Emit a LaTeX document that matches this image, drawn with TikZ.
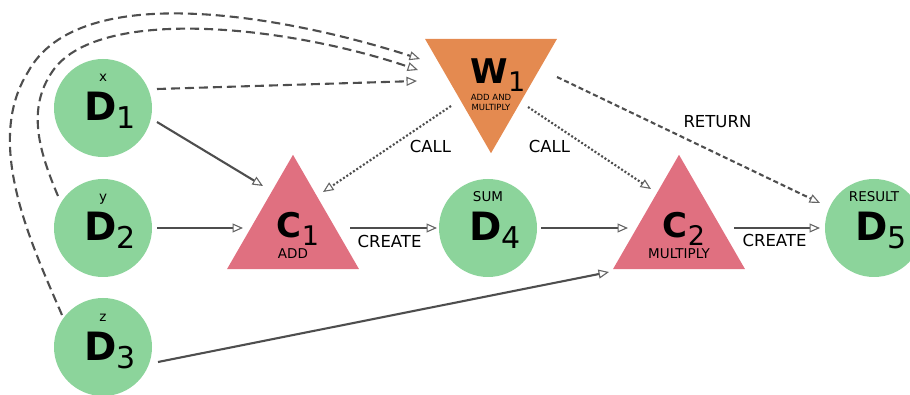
\documentclass[tikz,border=0pt]{standalone}
\usepackage{fontspec}
\setmainfont{DejaVu Sans}
\usetikzlibrary{arrows.meta,calc,shapes.geometric}
\definecolor{dgreen}{HTML}{8CD49B}
\definecolor{tred}{HTML}{E07080}
\definecolor{worange}{HTML}{E48A50}
\definecolor{edgegray}{HTML}{4E4E4E}
\definecolor{tipgray}{HTML}{666666}
\newcommand{\bigD}[2]{{\fontsize{39}{39}\selectfont\bfseries #1}\raisebox{-8pt}{\fontsize{30}{30}\selectfont #2}}
\newcommand{\triL}[2]{{\fontsize{34}{34}\selectfont\bfseries #1}\raisebox{-7.5pt}{\fontsize{27}{27}\selectfont #2}}
\begin{document}
\begin{tikzpicture}[x=1pt,y=-1pt,
  dnode/.style={circle, fill=dgreen, minimum size=98pt, inner sep=0pt, outer sep=0pt},
  cnode/.style={regular polygon, regular polygon sides=3, fill=tred, minimum size=152.4pt, inner sep=0pt, outer sep=0pt},
  wnode/.style={regular polygon, regular polygon sides=3, shape border rotate=180, fill=worange, minimum size=152.4pt, inner sep=0pt, outer sep=0pt},
  mainlbl/.style={anchor=base, inner sep=0pt},
  toplbl/.style={anchor=base, inner sep=0pt, font=\fontsize{13.5}{15}\selectfont},
  tinylbl/.style={anchor=base, inner sep=0pt, font=\fontsize{8.5}{10}\selectfont},
  elbl/.style={inner sep=0pt, font=\fontsize{16.5}{18}\selectfont, text=black},
  conn/.style={draw=edgegray, line width=2.1pt, -{Triangle[open, length=10.5pt, width=9pt, line width=1.1pt, color=tipgray]}},
  longdash/.style={dash pattern=on 9pt off 5pt},
  retdash/.style={dash pattern=on 5pt off 3pt},
  dotline/.style={dash pattern=on 2pt off 2pt}
]
\useasboundingbox (0,0) rectangle (910,395);
\clip (0,0) rectangle (910,395);

% nodes
\node[dnode] (d1) at (103,108) {};
\node[dnode] (d2) at (103,228) {};
\node[dnode] (d3) at (103,347) {};
\node[dnode] (d4) at (488,228) {};
\node[dnode] (d5) at (874,228) {};
\node[cnode] (c1) at (293,231) {};
\node[cnode] (c2) at (679,231) {};
\node[wnode] (w1) at (491,77) {};

% node texts
\node[mainlbl] (d1t) at ($(d1)+(7,13)$) {\bigD{D}{1}};
\node[mainlbl] (d2t) at ($(d2)+(7,13)$) {\bigD{D}{2}};
\node[mainlbl] (d3t) at ($(d3)+(7,13)$) {\bigD{D}{3}};
\node[mainlbl] (d4t) at ($(d4)+(7,13)$) {\bigD{D}{4}};
\node[mainlbl] (d5t) at ($(d5)+(7,13)$) {\bigD{D}{5}};
\node[toplbl] (d1l) at ($(d1)+(0,-26)$) {x};
\node[toplbl] (d2l) at ($(d2)+(0,-26)$) {y};
\node[toplbl] (d3l) at ($(d3)+(0,-26)$) {z};
\node[toplbl] (d4l) at ($(d4)+(0,-26)$) {SUM};
\node[toplbl] (d5l) at ($(d5)+(0,-26)$) {RESULT};
\node[mainlbl] (c1t) at ($(c1)+(5,7)$) {\triL{C}{1}};
\node[toplbl] (c1s) at ($(c1)+(0,27.5)$) {ADD};
\node[mainlbl] (c2t) at ($(c2)+(5,7)$) {\triL{C}{2}};
\node[toplbl] (c2s) at ($(c2)+(0,27.5)$) {MULTIPLY};
\node[mainlbl] (w1t) at ($(w1)+(7,7)$) {\triL{W}{1}};
\node[tinylbl] (w1a) at ($(w1)+(0,24)$) {ADD AND};
\node[tinylbl] (w1b) at ($(w1)+(0,34)$) {MULTIPLY};

% connectors
\draw[conn, longdash] ($(d1)+(54,-19)$) -- ($(w1)+(-74,4)$);
\draw[conn, longdash] ($(d2)+(-45,-32)$) .. controls (38.5,150) and (27,109) .. (52,72) .. controls (96,5.6) and (285,25) .. ($(w1)+(-73,-7)$);
\draw[conn, longdash] ($(d3)+(-41,-32)$) .. controls (30,241) and (-16,142) .. (28,72) .. controls (79,-22) and (286,16) .. ($(w1)+(-71,-18)$);
\draw[conn] ($(d1)+(54,14)$) -- ($(c1)+(-30,-45)$);
\draw[conn] ($(d2)+(54,0)$) -- ($(c1)+(-50,-3)$);
\draw[conn] ($(d3)+(55,15)$) -- ($(c2)+(-70,41)$);
\draw[conn] ($(c1)+(57,-3)$) -- node[elbl, pos=0.454, yshift=-13pt]{CREATE} ($(d4)+(-51,0)$);
\draw[conn] ($(d4)+(53,0)$) -- ($(c2)+(-51,-3)$);
\draw[conn] ($(c2)+(55,-3)$) -- node[elbl, pos=0.471, yshift=-12pt]{CREATE} ($(d5)+(-54,0)$);
\draw[conn, dotline] ($(w1)+(-40,29)$) -- node[elbl, pos=0.16, yshift=-26.7pt]{CALL} ($(c1)+(30,-39)$);
\draw[conn, dotline] ($(w1)+(37,30)$) -- node[elbl, pos=0.175, yshift=-25pt]{CALL} ($(c2)+(-28,-42)$);
\draw[conn, retdash] ($(w1)+(66,0)$) -- node[elbl, pos=0.61, yshift=32pt]{RETURN} ($(d5)+(-54,-25)$);
\end{tikzpicture}
\end{document}
